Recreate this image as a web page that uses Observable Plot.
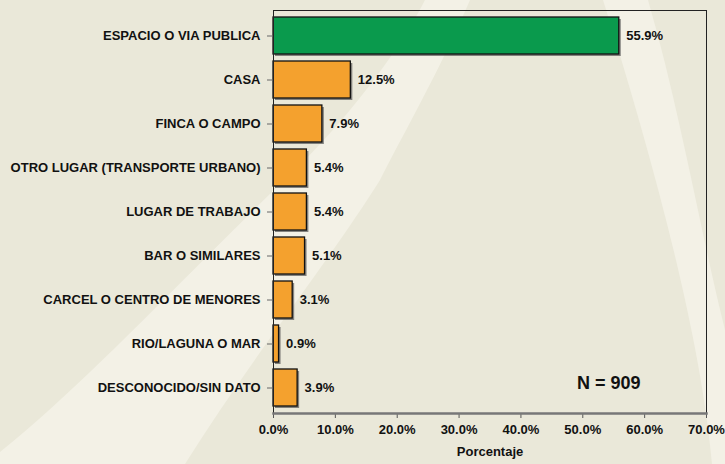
<!DOCTYPE html>
<html>
<head>
<meta charset="utf-8">
<script src="https://cdn.jsdelivr.net/npm/d3@7"></script>
<script src="https://cdn.jsdelivr.net/npm/@observablehq/plot@0.6"></script>
<style>
  html, body { margin: 0; padding: 0; background: #EAE8D9; }
  #wrap { position: relative; width: 725px; height: 464px; overflow: hidden; }
  #bg { position: absolute; left: 0; top: 0; }
  #chart { position: absolute; left: 0; top: 0; }
  #chart svg { background: transparent; }
</style>
</head>
<body>
<div id="wrap">
  <svg id="bg" width="725" height="464">
    <rect width="725" height="464" fill="#EAE8D9"/>
    <path d="M0,452 C90,380 200,260 300,165 C350,115 400,50 425,0 L470,0 C440,70 400,140 380,180 C330,260 250,360 185,464 L0,464 Z" fill="#F3F1E6"/>
    <path d="M603,0 L648,0 C680,110 700,230 725,330 L725,464 L712,464 C700,330 650,150 603,0 Z" fill="#F3F1E6"/>
  </svg>
  <div id="chart"></div>
</div>
<script>
const categories = [
  "ESPACIO O VIA PUBLICA",
  "CASA",
  "FINCA O CAMPO",
  "OTRO LUGAR (TRANSPORTE URBANO)",
  "LUGAR DE TRABAJO",
  "BAR O SIMILARES",
  "CARCEL O CENTRO DE MENORES",
  "RIO/LAGUNA O MAR",
  "DESCONOCIDO/SIN DATO"
];
const values = [55.9, 12.5, 7.9, 5.4, 5.4, 5.1, 3.1, 0.9, 3.9];
const barColors = ["#0A9A4D", "#F4A12E", "#F4A12E", "#F4A12E", "#F4A12E", "#F4A12E", "#F4A12E", "#F4A12E", "#F4A12E"];
const xTicks = [0, 10, 20, 30, 40, 50, 60, 70];
const nLabel = "N = 909";

const data = categories.map((c, i) => ({cat: c, value: values[i], color: barColors[i]}));

const fontFamily = "'Liberation Sans', Arial, sans-serif";

const chart = Plot.plot({
  width: 725,
  height: 464,
  marginLeft: 273,
  marginRight: 19,
  marginTop: 10,
  marginBottom: 51,
  style: {fontFamily, fontWeight: "bold", fontSize: "13px", color: "#111", background: "transparent"},
  x: {domain: [0, 70]},
  y: {domain: categories, padding: 0.15},
  color: {type: "identity"},
  marks: [
    Plot.barX(data, {x: "value", y: "cat", fill: "#4a4a4a", fillOpacity: 0.65, dx: 2, dy: 2}),
    Plot.barX(data, {x: "value", y: "cat", fill: "color", stroke: "#111", strokeWidth: 1.3}),
    Plot.text(data, {x: "value", y: "cat", text: d => d.value.toFixed(1) + "%", textAnchor: "start", dx: 7, fill: "#111", fontSize: 13, fontWeight: "bold"}),
    Plot.text([nLabel], {x: 54.2, y: () => categories[categories.length - 1], text: d => d, fontSize: 18, fontWeight: "bold", fill: "#111", dy: -5}),
    Plot.axisY({tickSize: 6, tickPadding: 7, stroke: "#666", label: null, fontSize: 13}),
    Plot.axisX({ticks: xTicks, tickFormat: d => d.toFixed(1) + "%", tickSize: 5, tickPadding: 6, stroke: "#555", label: "Porcentaje", labelAnchor: "center", labelArrow: "none", labelOffset: 42, fontSize: 13}),
    Plot.frame({stroke: "#222", strokeWidth: 1}),
    Plot.frame({anchor: "bottom", stroke: "#777", strokeWidth: 2.5})
  ]
});
document.getElementById("chart").appendChild(chart);
</script>
</body>
</html>
